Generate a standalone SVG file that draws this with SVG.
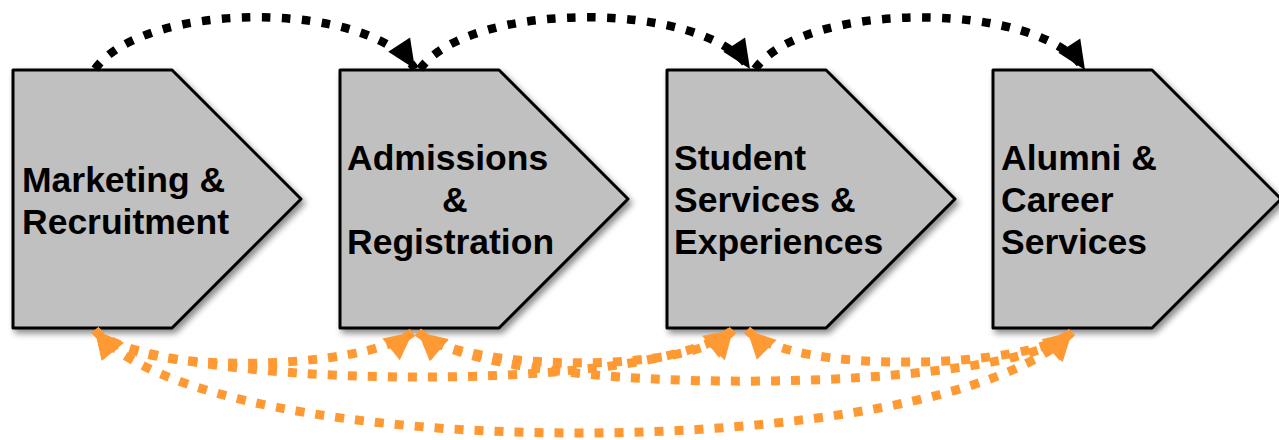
<svg xmlns="http://www.w3.org/2000/svg" width="1279" height="440" viewBox="0 0 1279 440">
  <style>
    .box { fill: #c0c0c0; stroke: #000; stroke-width: 3; stroke-linejoin: round; filter: url(#shadow); }
    .lbl { font-family: "Liberation Sans", Arial, sans-serif; font-weight: bold; font-size: 35.5px; fill: #000; }
    .blk { fill: none; stroke: #000; stroke-width: 8.5; stroke-dasharray: 8.5 11.5; }
    .org { fill: none; stroke: #ff9933; stroke-width: 9; stroke-dasharray: 9 11; }
  </style>
  <defs>
    <filter id="shadow" x="-10%" y="-10%" width="130%" height="130%">
      <feDropShadow dx="3" dy="4" stdDeviation="3" flood-color="#000" flood-opacity="0.45"/>
    </filter>
    <marker id="headBlack" markerUnits="userSpaceOnUse" viewBox="-32 -17 34 34" markerWidth="34" markerHeight="34" refX="0" refY="0" orient="auto">
      <path d="M0,0 L-29,-13 L-29,13 Z" fill="#000"/>
    </marker>
    <marker id="headOrange" markerUnits="userSpaceOnUse" viewBox="-32 -17 34 34" markerWidth="34" markerHeight="34" refX="0" refY="0" orient="auto-start-reverse">
      <path d="M0,0 L-28,-14 L-28,14 Z" fill="#ff9933"/>
    </marker>
  </defs>

  <g id="node-marketing">
    <polygon class="box" points="13,70 172,70 301,199 172,328 13,328"/>
    <text class="lbl" x="22" y="192">Marketing &amp;</text>
    <text class="lbl" x="22" y="234">Recruitment</text>
  </g>
  <g id="node-admissions">
    <polygon class="box" points="340,70 499,70 628,199 499,328 340,328"/>
    <text class="lbl" x="347" y="170">Admissions</text>
    <text class="lbl" x="442" y="212">&amp;</text>
    <text class="lbl" x="347" y="254">Registration</text>
  </g>
  <g id="node-student">
    <polygon class="box" points="667,70 826,70 955,199 826,328 667,328"/>
    <text class="lbl" x="674" y="170">Student</text>
    <text class="lbl" x="674" y="212">Services &amp;</text>
    <text class="lbl" x="674" y="254">Experiences</text>
  </g>
  <g id="node-alumni">
    <polygon class="box" points="993,70 1152,70 1281,199 1152,328 993,328"/>
    <text class="lbl" x="1001" y="170">Alumni &amp;</text>
    <text class="lbl" x="1001" y="212">Career</text>
    <text class="lbl" x="1001" y="254">Services</text>
  </g>

  <g id="connectors">
    <path class="blk" marker-end="url(#headBlack)" d="M95,69 C145,0 370,0 415,69"/>
    <path class="blk" marker-end="url(#headBlack)" d="M420,69 C470,0 705,0 750,69"/>
    <path class="blk" marker-end="url(#headBlack)" d="M755,69 C805,0 1040,0 1085,70"/>

    <path class="org" marker-start="url(#headOrange)" marker-end="url(#headOrange)" d="M95,330 C135,378 365,370 413,332"/>
    <path class="org" marker-start="url(#headOrange)" marker-end="url(#headOrange)" d="M418,332 C463,372 693,375 733,330"/>
    <path class="org" marker-start="url(#headOrange)" marker-end="url(#headOrange)" d="M747,330 C792,375 1027,370 1072,332"/>
    <path class="org" marker-start="url(#headOrange)" marker-end="url(#headOrange)" d="M95,330 C140,385 640,400 733,330"/>
    <path class="org" marker-start="url(#headOrange)" marker-end="url(#headOrange)" d="M418,332 C500,400 1010,395 1072,332"/>
    <path class="org" marker-start="url(#headOrange)" marker-end="url(#headOrange)" d="M95,330 C205,467 942,467 1072,332"/>
  </g>
</svg>
